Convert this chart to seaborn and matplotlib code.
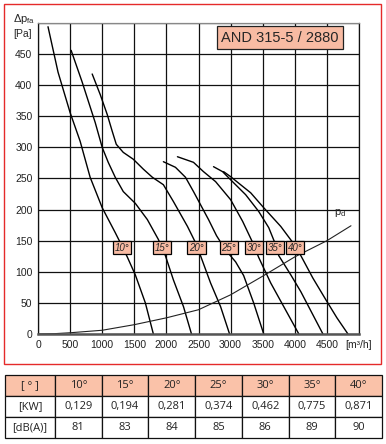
import pandas as pd
import seaborn as sns
import matplotlib.pyplot as plt
from matplotlib.patches import Rectangle

sns.set_style("white")
plt.rcParams["font.family"] = ["Liberation Sans", "DejaVu Sans"]
plt.rcParams["mathtext.fontset"] = "custom"
plt.rcParams["mathtext.rm"] = "Liberation Sans"
plt.rcParams["mathtext.it"] = "Liberation Sans"

# Fan curves: flow [m3/h] vs. static pressure [Pa]
angles = ["10°", "15°", "20°", "25°", "30°", "35°", "40°"]

q10 = [156, 312, 500, 656, 812, 1000, 1203, 1281, 1390, 1516, 1672, 1797]
p10 = [494, 421, 356, 310, 252, 203, 163, 147, 124, 95, 50, 0]

q15 = [516, 688, 891, 1000, 1094, 1203, 1328, 1516, 1703, 1875, 1984, 2109, 2266, 2391]
p15 = [456, 405, 340, 300, 276, 252, 229, 210, 184, 152, 126, 87, 44, 0]

q20 = [844, 969, 1078, 1156, 1219, 1328, 1484, 1641, 1781, 1953, 2109, 2328, 2453, 2531, 2688, 2844, 2984]
p20 = [418, 385, 353, 326, 305, 292, 281, 265, 252, 240, 213, 173, 147, 126, 82, 44, 0]

q25 = [1953, 2141, 2297, 2422, 2531, 2656, 2781, 2922, 3078, 3203, 3359, 3516]
p25 = [277, 268, 252, 229, 208, 184, 158, 135, 116, 94, 50, 0]

q30 = [2172, 2422, 2578, 2766, 3000, 3188, 3344, 3438, 3625, 3828, 4063]
p30 = [285, 276, 261, 245, 216, 181, 147, 123, 82, 44, 0]

q35 = [2734, 2875, 3000, 3234, 3438, 3594, 3688, 3750, 3938, 4094, 4266, 4438]
p35 = [269, 261, 248, 224, 197, 171, 147, 126, 95, 68, 34, 0]

q40 = [2891, 3000, 3156, 3313, 3516, 3781, 3969, 4094, 4281, 4484, 4656, 4828]
p40 = [261, 253, 240, 227, 203, 173, 147, 126, 90, 55, 26, 0]

# dynamic pressure curve
qd = [0, 250, 500, 1000, 1500, 2000, 2500, 3000, 3500, 4000, 4500, 4875]
pdyn = [0, 0.5, 2, 6, 15, 26, 39, 63, 93, 124, 150, 174]

# angle tags on the curves
tag_q = [1312, 1937, 2469, 2969, 3359, 3688, 4000]
tag_p = 139

# table below the chart
kw = ["0,129", "0,194", "0,281", "0,374", "0,462", "0,775", "0,871"]
dba = ["81", "83", "84", "85", "86", "89", "90"]

x_ticks = list(range(0, 5001, 500))
x_labels = [str(v) for v in x_ticks[:-1]] + ["[m³/h]"]
y_ticks = list(range(0, 501, 50))
y_labels = [str(v) for v in y_ticks[:-1]] + [""]

curves = [(q10, p10), (q15, p15), (q20, p20), (q25, p25), (q30, p30), (q35, p35), (q40, p40)]
rows = []
for ang, (qs, ps) in zip(angles, curves):
    for q, p in zip(qs, ps):
        rows.append({"angle": ang, "q": q, "p": p})
df = pd.DataFrame(rows)

W, H = 386, 444
fig = plt.figure(figsize=(W / 100, H / 100), dpi=100)
ax = fig.add_axes([38 / W, 110 / H, 321 / W, 311 / H])

sns.lineplot(data=df, x="q", y="p", units="angle", estimator=None, sort=False,
             color="black", lw=1.0, ax=ax)
sns.lineplot(x=qd, y=pdyn, sort=False, color="#222222", lw=0.8, ax=ax)

ax.set_xlim(0, 5000)
ax.set_ylim(0, 500)
ax.set_xticks(x_ticks)
ax.set_xticklabels(x_labels)
ax.set_yticks(y_ticks)
ax.set_yticklabels(y_labels)
ax.set_xlabel("")
ax.set_ylabel("")
ax.tick_params(length=0, labelsize=7.5, colors="#222222")
ax.tick_params(axis="x", pad=4)
ax.tick_params(axis="y", pad=4)
ax.grid(True, color="#111111", lw=0.9)
for side in ["left", "right", "top"]:
    ax.spines[side].set_color("#111111")
    ax.spines[side].set_linewidth(0.9)
ax.spines["top"].set_color("#888888")
ax.spines["bottom"].set_color("#555555")
ax.spines["bottom"].set_linewidth(1.8)

tag_fill = "#F8BBA3"
for ang, q in zip(angles, tag_q):
    ax.text(q, tag_p, ang, ha="center", va="center", fontsize=7, style="italic",
            zorder=5,
            bbox=dict(boxstyle="square,pad=0.18", fc=tag_fill, ec="black", lw=0.9))

ax.text(0.754, 0.953, "AND 315-5 / 2880", transform=ax.transAxes, ha="center",
        va="center", fontsize=10.5, zorder=5,
        bbox=dict(boxstyle="square,pad=0.3", fc=tag_fill, ec="#222222", lw=0.9))

ax.text(4610, 185, r"$\mathrm{p_d}$", ha="left", va="bottom", fontsize=8)

fig.text(13 / W, 1 - 19 / H, r"$\Delta\mathrm{p_{fa}}$", ha="left", va="center", fontsize=8)
fig.text(13 / W, 1 - 34 / H, "[Pa]", ha="left", va="center", fontsize=7.5)

fig.patches.append(Rectangle((4 / W, 80 / H), 377 / W, 360 / H, transform=fig.transFigure,
                             fill=False, edgecolor="#E52A2A", lw=1.0))

# table
ax_t = fig.add_axes([5 / W, 6 / H, 377 / W, 63 / H])
ax_t.axis("off")
cell_text = [["[ ° ]"] + angles, ["[KW]"] + kw, ["[dB(A)]"] + dba]
first_w = 50 / 377
col_w = [first_w] + [(1 - first_w) / 7] * 7
tab = ax_t.table(cellText=cell_text, colWidths=col_w, cellLoc="center", bbox=[0, 0, 1, 1])
tab.auto_set_font_size(False)
for (r, c), cell in tab.get_celld().items():
    cell.set_edgecolor("#111111")
    cell.set_linewidth(0.9)
    cell.get_text().set_fontsize(8)
    cell.get_text().set_fontfamily(["Open Sans", "DejaVu Sans"])
    cell.get_text().set_color("#222222")
    if r == 0:
        cell.set_facecolor("#FAC2A9")

fig.savefig("out.png", dpi=100)
